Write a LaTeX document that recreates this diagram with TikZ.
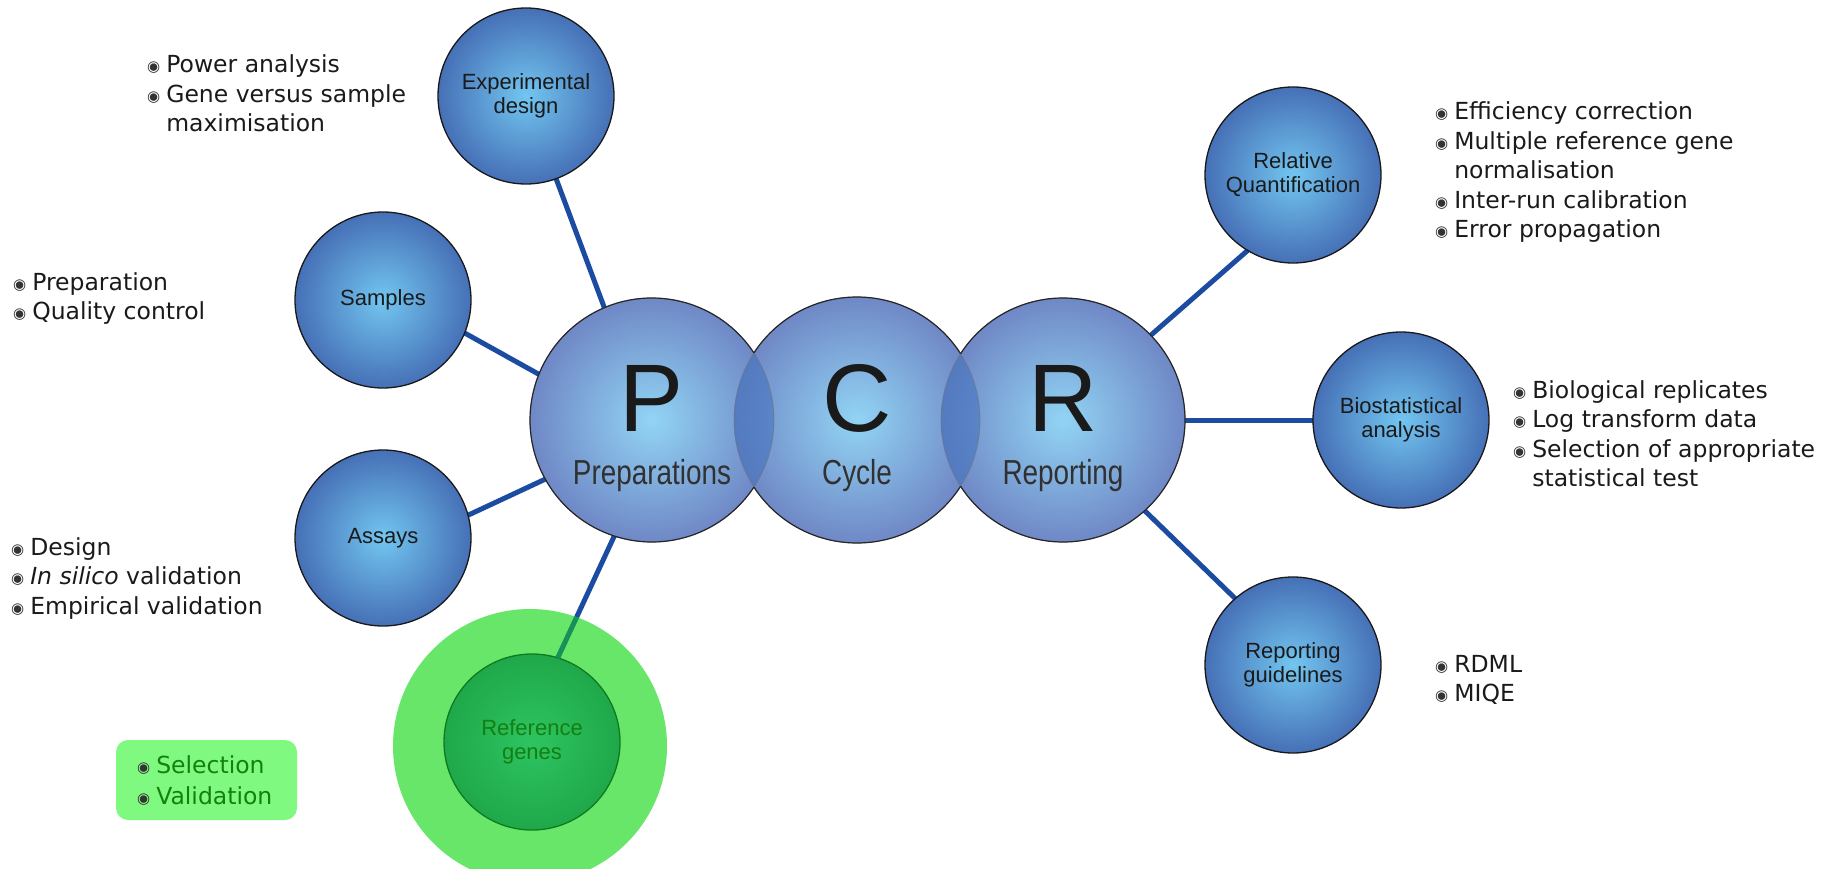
\documentclass[tikz,border=0pt]{standalone}
\usepackage{fontspec}
\setmainfont{Liberation Sans}
\newfontfamily\listfont{DejaVu Sans}
\usetikzlibrary{backgrounds}

\definecolor{cedge}{HTML}{4670B6}
\definecolor{ccenter}{HTML}{72C6F0}
\definecolor{pedge}{HTML}{6F88C6}
\definecolor{pcenter}{HTML}{92D4F4}
\definecolor{lensc}{HTML}{3F6FBC}
\definecolor{conn}{HTML}{1B4CA2}
\definecolor{gouter}{HTML}{68E66A}
\definecolor{ginner}{HTML}{1FA84A}
\definecolor{ginnerc}{HTML}{2EC462}
\definecolor{gdark}{HTML}{0F7A1F}
\definecolor{gtext}{HTML}{13800F}
\definecolor{gline}{HTML}{17905A}
\definecolor{gbox}{HTML}{80F980}
\definecolor{txt}{HTML}{1A1A1A}

\newcommand{\bul}{\raisebox{1pt}{\fontsize{15}{15}\selectfont\textcolor{black!80}{◉}}}
\newcommand{\tallbox}[1]{\scalebox{0.9}[1.12]{#1}}

\tikzset{
  small/.style={circle, draw=black!90, line width=1.3pt, inner color=ccenter, outer color=cedge,
    minimum size=176pt, inner sep=0pt, outer sep=0pt, align=center,
    font=\fontsize{22}{24}\selectfont, text=txt},
  bigc/.style={circle, minimum size=#1, inner sep=0pt, outer sep=0pt},
  connector/.style={draw=conn, line width=5pt},
  listn/.style={anchor=base west, inner sep=0pt, font=\listfont\fontsize{23.5}{29.5}\selectfont, text=txt},
  bigletter/.style={font=\fontsize{96}{96}\selectfont, text=txt, anchor=base, inner sep=0pt},
  biglabel/.style={font=\fontsize{31}{31}\selectfont, text=txt!90, anchor=base, inner sep=0pt},
  faintb/.style={draw=black!55, line width=0.8pt, opacity=0.6},
  darkb/.style={draw=black!85, line width=1.2pt},
}

\begin{document}
\begin{tikzpicture}[x=1pt,y=1pt]
\useasboundingbox (0,0) rectangle (1839,-869);

% reference genes halo
\node[circle, fill=gouter, minimum size=274pt, inner sep=0pt] (halo) at (530,-746) {};

% satellite circles
\node[small] (ed) at (526,-96) {Experimental\\design};
\node[small] (sa) at (383,-300) {Samples};
\node[small] (as) at (383,-538) {Assays};
\node[small, inner color=ginnerc, outer color=ginner, draw=gdark, text=gtext] (ref) at (532,-742) {Reference\\genes};
\node[small] (rq) at (1293,-175) {Relative\\Quantification};
\node[small] (ba) at (1401,-420) {Biostatistical\\analysis};
\node[small] (rg) at (1293,-665) {Reporting\\guidelines};

% PCR circles
\coordinate (Pc) at (652,-420);
\coordinate (Cc) at (857,-420);
\coordinate (Rc) at (1063,-420);
\shade[inner color=pcenter, outer color=pedge] (Pc) circle (122pt);
\shade[inner color=pcenter, outer color=pedge] (Cc) circle (123pt);
\shade[inner color=pcenter, outer color=pedge] (Rc) circle (122pt);
\begin{scope}
  \clip (Pc) circle (122pt);
  \fill[lensc, opacity=0.55] (Cc) circle (123pt);
\end{scope}
\begin{scope}
  \clip (Cc) circle (123pt);
  \fill[lensc, opacity=0.55] (Rc) circle (122pt);
\end{scope}
\draw[faintb] (Pc) circle (122pt) (Cc) circle (123pt) (Rc) circle (122pt);
\draw[darkb] (Pc) ++(33.4:122pt) arc[start angle=33.4, end angle=326.6, radius=122pt];
\draw[darkb] (Cc) ++(32.6:123pt) arc[start angle=32.6, end angle=146.9, radius=123pt];
\draw[darkb] (Cc) ++(213.1:123pt) arc[start angle=213.1, end angle=327.4, radius=123pt];
\draw[darkb] (Rc) ++(-147.1:122pt) arc[start angle=-147.1, end angle=147.1, radius=122pt];

\node[bigc=244pt] (P) at (Pc) {};
\node[bigc=246pt] (C) at (Cc) {};
\node[bigc=244pt] (R) at (Rc) {};
\node[bigletter] (Pl) at (652,-431) {P};
\node[biglabel] (Pt) at (652,-484) {\tallbox{Preparations}};
\node[bigletter] (Cl) at (857,-431) {C};
\node[biglabel] (Ct) at (857,-484) {\tallbox{Cycle}};
\node[bigletter] (Rl) at (1063,-431) {R};
\node[biglabel] (Rt) at (1063,-484) {\tallbox{Reporting}};

% connectors
\begin{pgfonlayer}{background}
\draw[connector] (ed.-70) -- (P.113.6);
\draw[connector] (sa.-22.5) -- (P.158);
\draw[connector] (as.15.4) -- (P.-151);
\draw[connector] (ref.73) -- (P.-108.7);
\draw[connector] (R.44.4) -- (rq.-121);
\draw[connector] (R.east) -- (ba.west);
\draw[connector] (R.-48.4) -- (rg.131);
\end{pgfonlayer}
\begin{scope}
  \clip (halo.center) circle (137pt);
  \draw[connector, draw=gline] (ref.73) -- (P.-108.7);
\end{scope}

% lists
\node[listn] (edl) at (147,-73) {\begin{tabular}[t]{@{}l@{\hspace{6pt}}l@{}}
\bul & Power analysis\\
\bul & Gene versus sample\\
 & maximisation\end{tabular}};
\node[listn] (sal) at (13,-290) {\begin{tabular}[t]{@{}l@{\hspace{6pt}}l@{}}
\bul & Preparation\\
\bul & Quality control\end{tabular}};
\node[listn] (asl) at (11,-555) {\begin{tabular}[t]{@{}l@{\hspace{6pt}}l@{}}
\bul & Design\\
\bul & \textit{In silico} validation\\
\bul & Empirical validation\end{tabular}};

\node[fill=gbox, rounded corners=12pt, minimum width=181pt, minimum height=80pt, inner sep=0pt] (selbox) at (206.5,-780) {};
\node[listn, text=gtext, font=\listfont\fontsize{23.5}{31}\selectfont] (refl) at (137,-773) {\begin{tabular}[t]{@{}l@{\hspace{6pt}}l@{}}
\bul & Selection\\
\bul & Validation\end{tabular}};

\node[listn] (rql) at (1435,-120) {\begin{tabular}[t]{@{}l@{\hspace{6pt}}l@{}}
\bul & Efficiency correction\\
\bul & Multiple reference gene\\
 & normalisation\\
\bul & Inter-run calibration\\
\bul & Error propagation\end{tabular}};
\node[listn] (bal) at (1513,-398) {\begin{tabular}[t]{@{}l@{\hspace{6pt}}l@{}}
\bul & Biological replicates\\
\bul & Log transform data\\
\bul & Selection of appropriate\\
 & statistical test\end{tabular}};
\node[listn] (rgl) at (1435,-672) {\begin{tabular}[t]{@{}l@{\hspace{6pt}}l@{}}
\bul & RDML\\
\bul & MIQE\end{tabular}};
\end{tikzpicture}
\end{document}
